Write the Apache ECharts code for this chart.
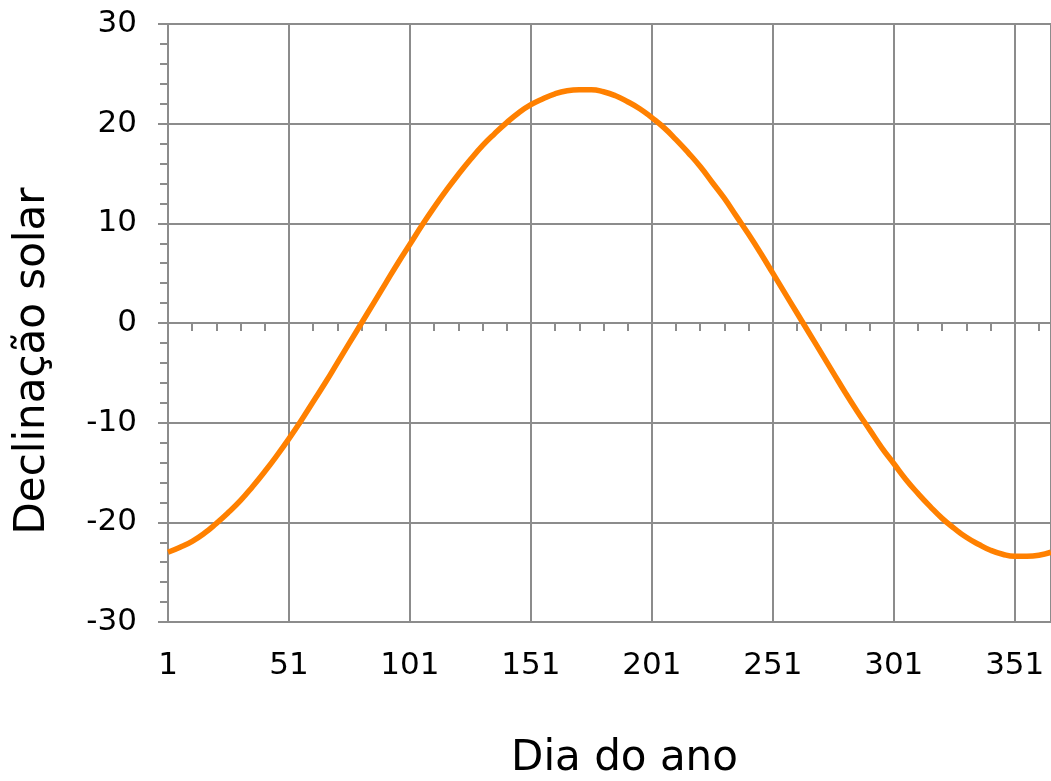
<!DOCTYPE html>
<html>
<head>
<meta charset="utf-8">
<script src="https://cdn.jsdelivr.net/npm/echarts@6/dist/echarts.min.js"></script>
<style>
html,body{margin:0;padding:0;background:#fff;}
#chart{width:1051px;height:781px;}
</style>
</head>
<body>
<div id="chart"></div>
<script>
// Day of year (x) and solar declination in degrees (y)
var days = [1,6,11,16,21,26,31,36,41,46,51,56,61,66,71,76,81,86,91,96,101,106,111,116,121,126,131,136,141,146,151,156,161,166,171,176,181,186,191,196,201,206,211,216,221,226,231,236,241,246,251,256,261,266,271,276,281,286,291,296,301,306,311,316,321,326,331,336,341,346,351,356,361,366];
var declination = [-23.0,-22.5,-21.9,-21.1,-20.1,-19.0,-17.8,-16.4,-14.9,-13.3,-11.6,-9.8,-7.9,-6.0,-4.0,-2.0,0.0,2.0,4.0,6.0,7.9,9.8,11.6,13.3,14.9,16.4,17.8,19.0,20.1,21.1,21.9,22.5,23.0,23.3,23.4,23.4,23.2,22.8,22.2,21.5,20.6,19.6,18.4,17.1,15.7,14.1,12.5,10.7,8.9,7.0,5.0,3.0,1.0,-1.0,-3.0,-5.0,-7.0,-8.9,-10.7,-12.5,-14.1,-15.7,-17.1,-18.4,-19.6,-20.6,-21.5,-22.2,-22.8,-23.2,-23.4,-23.4,-23.3,-23.0];
var xTitle = 'Dia do ano';
var yTitle = 'Declinação solar';

var points = days.map(function (d, i) { return [d, declination[i]]; });

var FONT = 'DejaVu Sans';
var GRAY = '#8c8c8c';

var chart = echarts.init(document.getElementById('chart'));
chart.setOption({
  animation: false,
  backgroundColor: '#ffffff',
  grid: { left: 168, right: 0, top: 24, bottom: 159, containLabel: false, outerBoundsMode: 'none' },
  xAxis: [
    {
      type: 'value', position: 'bottom', min: 1, max: 366, interval: 50,
      axisLine: { show: false, onZero: false },
      axisTick: { show: false },
      axisLabel: { show: true, margin: 28, color: '#000', fontFamily: FONT, fontSize: 31,
        showMaxLabel: false, showMinLabel: true },
      splitLine: { show: true, lineStyle: { color: GRAY, width: 2 } },
      name: xTitle, nameLocation: 'middle', nameGap: 116,
      nameTextStyle: { color: '#000', fontFamily: FONT, fontSize: 42, padding: [0, 0, 0, 30] }
    },
    {
      type: 'value', position: 'bottom', min: 1, max: 366, interval: 50,
      axisLine: { show: true, onZero: true, onZeroAxisIndex: 0, lineStyle: { color: GRAY, width: 2 } },
      axisTick: { show: false },
      minorTick: { show: true, splitNumber: 5, length: 8, lineStyle: { color: GRAY, width: 2 } },
      axisLabel: { show: false },
      splitLine: { show: false }
    }
  ],
  yAxis: {
    type: 'value', min: -30, max: 30, interval: 10,
    axisLine: { show: true, onZero: false, lineStyle: { color: GRAY, width: 2 } },
    axisTick: { show: true, length: 10, lineStyle: { color: GRAY, width: 2 } },
    minorTick: { show: true, splitNumber: 5, length: 8, lineStyle: { color: GRAY, width: 2 } },
    axisLabel: { margin: 31, color: '#000', fontFamily: FONT, fontSize: 31 },
    splitLine: { show: true, lineStyle: { color: GRAY, width: 2 } },
    name: yTitle, nameLocation: 'middle', nameGap: 114, nameRotate: 90,
    nameTextStyle: { color: '#000', fontFamily: FONT, fontSize: 42, padding: [0, 76, 0, 0] }
  },
  series: [{
    type: 'line', xAxisIndex: 0, yAxisIndex: 0,
    data: points, smooth: 0.5, showSymbol: false, symbol: 'none',
    lineStyle: { color: '#ff8000', width: 5.5 }
  }]
});
</script>
</body>
</html>
